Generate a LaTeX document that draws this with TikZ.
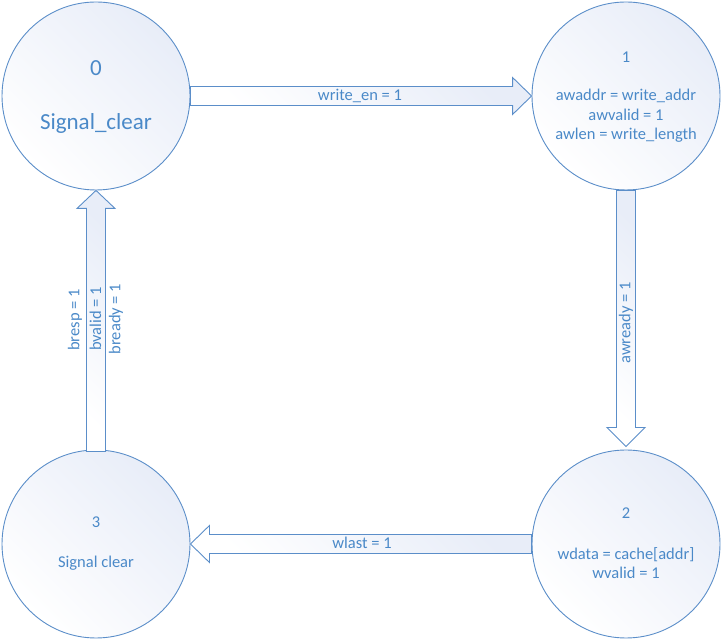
\documentclass[tikz,border=0pt]{standalone}
\usepackage{fontspec}
\setmainfont{Carlito}
\usetikzlibrary{calc}
\definecolor{lineblue}{HTML}{5B8EC9}
\definecolor{textblue}{HTML}{4A89C8}
\definecolor{tint}{HTML}{E8EDF8}
\tikzset{
  state/.style={circle, draw=lineblue, line width=0.9pt, minimum size=188pt, inner sep=0pt,
    shading=axis, left color=tint, right color=white, shading angle=-45},
  blockarrow/.style={draw=lineblue, line width=0.9pt, shading=axis, left color=tint, right color=white, shading angle=-45, line join=miter},
  big/.style={text=textblue, font=\fontsize{23}{27}\selectfont, inner sep=0pt},
  small/.style={text=textblue, font=\fontsize{16.5}{19.5}\selectfont, align=center, inner sep=0pt},
}
\begin{document}
\begin{tikzpicture}[x=1pt,y=1pt]
\useasboundingbox (0,0) rectangle (722,639);
% states
\node[state] (c0) at (96,543) {};
\node[state] (c1) at (626,543) {};
\node[state] (c2) at (626,95) {};
\node[state] (c3) at (96,95) {};
% arrows
\draw[blockarrow] ($(c0.east)+(0,9.5)$) -- ($(c1.west)+(-19,9.5)$) -- ($(c1.west)+(-19,18.5)$) -- (c1.west)
  -- ($(c1.west)+(-19,-18.5)$) -- ($(c1.west)+(-19,-9.5)$) -- ($(c0.east)+(0,-9.5)$) -- cycle;
\draw[blockarrow] ($(c1.south)+(-9.5,0)$) -- ($(c2.north)+(-9.5,22)$) -- ($(c2.north)+(-19,22)$) -- ($(c2.north)+(0,3)$)
  -- ($(c2.north)+(19,22)$) -- ($(c2.north)+(9.5,22)$) -- ($(c1.south)+(9.5,0)$) -- cycle;
\draw[blockarrow] ($(c2.west)+(0,9.5)$) -- ($(c3.east)+(19,9.5)$) -- ($(c3.east)+(19,18.5)$) -- (c3.east)
  -- ($(c3.east)+(19,-18.5)$) -- ($(c3.east)+(19,-9.5)$) -- ($(c2.west)+(0,-9.5)$) -- cycle;
\draw[blockarrow] ($(c3.north)+(-9.5,-2)$) -- ($(c0.south)+(-9.5,-18)$) -- ($(c0.south)+(-19,-18)$) -- (c0.south)
  -- ($(c0.south)+(19,-18)$) -- ($(c0.south)+(9.5,-18)$) -- ($(c3.north)+(9.5,-2)$) -- cycle;
% state texts
\node[big] (n0) at ($(c0)+(0,28)$) {0};
\node[big] (s0) at ($(c0)+(0,-28)$) {Signal\_clear};
\node[small] (n1) at ($(c1)+(0,39)$) {1};
\node[small] (s1) at ($(c1)+(0,-20)$) {awaddr = write\_addr\\awvalid = 1\\awlen = write\_length};
\node[small] (n2) at ($(c2)+(0,31)$) {2};
\node[small] (s2) at ($(c2)+(0,-19)$) {wdata = cache[addr]\\wvalid = 1};
\node[small] (n3) at ($(c3)+(0,22)$) {3};
\node[small] (s3) at ($(c3)+(0,-19)$) {Signal clear};
% arrow labels
\node[small] (l01) at (360,543) {write\_en = 1};
\node[small, rotate=90] (l12) at (626,316) {awready = 1};
\node[small] (l23) at (362,96) {wlast = 1};
\node[small, rotate=90] (l30a) at (75,319) {bresp = 1};
\node[small, rotate=90] (l30b) at (95.5,320) {bvalid = 1};
\node[small, rotate=90] (l30c) at (116,320) {bready = 1};
\end{tikzpicture}
\end{document}
